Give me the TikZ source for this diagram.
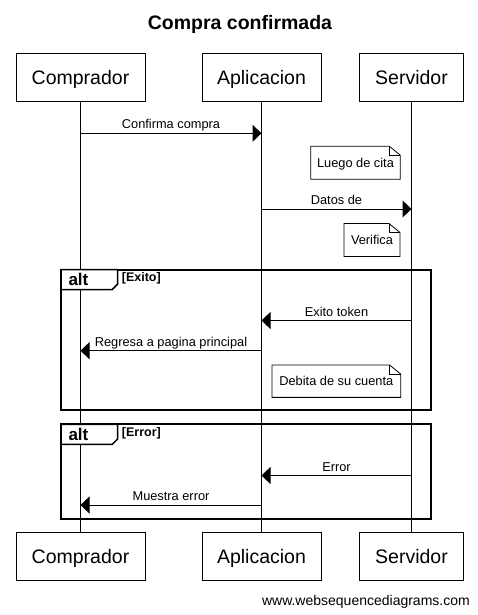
\documentclass[tikz,border=0pt]{standalone}
\usepackage{fontspec}
\setmainfont{Liberation Sans}
\usetikzlibrary{arrows.meta}
\tikzset{
  actorbox/.style={draw, line width=1pt, minimum height=48.5pt, inner sep=0pt,
    text height=14pt, text depth=0pt, font=\fontsize{19.5}{22}\selectfont},
  lifeline/.style={line width=1pt},
  msg/.style={line width=1pt, -{Triangle[length=9pt,width=17pt]}},
  mlabel/.style={anchor=base, inner sep=0pt, font=\fontsize{12.8}{14}\selectfont},
  notebox/.style={fill=white, inner sep=0pt, outer sep=0pt, minimum height=33pt,
    text height=9.3pt, text depth=0pt, font=\fontsize{12.8}{14}\selectfont},
  noteline/.style={line width=0.8pt},
  framebox/.style={draw, line width=2pt, inner sep=0pt, outer sep=0pt},
  tabline/.style={line width=1.5pt, fill=white},
  altlabel/.style={anchor=base west, inner sep=0pt, font=\fontsize{17}{19}\selectfont\bfseries},
  condlabel/.style={anchor=base west, inner sep=0pt, font=\fontsize{12.5}{14}\selectfont\bfseries},
}
\newcommand{\notepath}[1]{%
  \draw[noteline] (#1.south west) -- (#1.north west) -- ([xshift=-11pt]#1.north east)
    -- ([yshift=-9pt]#1.north east) -- (#1.south east) -- cycle;
  \draw[noteline] ([xshift=-11pt]#1.north east) |- ([yshift=-9pt]#1.north east);}
\begin{document}
\begin{tikzpicture}[x=1pt,y=-1pt]
\useasboundingbox[fill=white] (0,0) rectangle (478,615);

% title
\node[anchor=base, inner sep=0pt, font=\fontsize{19.5}{22}\selectfont\bfseries] (title) at (240,30) {Compra confirmada};

% participants
\node[actorbox, minimum width=129pt] (cT) at (80.5,77.5) {Comprador};
\node[actorbox, minimum width=119pt] (aT) at (261.5,77.5) {Aplicacion};
\node[actorbox, minimum width=104pt] (sT) at (411.5,77.5) {Servidor};
\node[actorbox, minimum width=129pt] (cB) at (80.5,556.7) {Comprador};
\node[actorbox, minimum width=119pt] (aB) at (261.5,556.7) {Aplicacion};
\node[actorbox, minimum width=104pt] (sB) at (411.5,556.7) {Servidor};

\draw[lifeline] (cT.south) -- (cB.north);
\draw[lifeline] (aT.south) -- (aB.north);
\draw[lifeline] (sT.south) -- (sB.north);

% message end points
\coordinate (m1a) at (80.5,133.3);  \coordinate (m1b) at (261.5,133.3);
\coordinate (m2a) at (261.5,209);   \coordinate (m2b) at (411.5,209);
\coordinate (m3a) at (411.5,320.5); \coordinate (m3b) at (261.5,320.5);
\coordinate (m4a) at (261.5,350.7); \coordinate (m4b) at (80.5,350.7);
\coordinate (m5a) at (411.5,475.5); \coordinate (m5b) at (261.5,475.5);
\coordinate (m6a) at (261.5,505);   \coordinate (m6b) at (80.5,505);

\draw[msg] (m1a) -- (m1b) node[mlabel, pos=0.5, yshift=4.5pt] {Confirma compra};
\draw[msg] (m2a) -- (m2b) node[mlabel, pos=0.5, yshift=4.5pt] {Datos de};
\draw[msg] (m3a) -- (m3b) node[mlabel, pos=0.5, yshift=4.5pt] {Exito token};
\draw[msg] (m4a) -- (m4b) node[mlabel, pos=0.5, yshift=4.5pt] {Regresa a pagina principal};
\draw[msg] (m5a) -- (m5b) node[mlabel, pos=0.5, yshift=4.5pt] {Error};
\draw[msg] (m6a) -- (m6b) node[mlabel, pos=0.5, yshift=4.5pt] {Muestra error};

% notes
\node[notebox, minimum width=89.6pt] (n1) at (355.5,162.7) {Luego de cita};
\notepath{n1}
\node[notebox, minimum width=56pt] (n2) at (372,240) {Verifica};
\notepath{n2}
\node[notebox, minimum width=128.7pt, minimum height=32.3pt] (n3) at (336.3,381.2) {Debita de su cuenta};
\notepath{n3}

% alt frames
\node[framebox, minimum width=370pt, minimum height=140pt] (f1) at (246,339.5) {};
\filldraw[tabline] (f1.north west) -- ++(56.7,0) -- ++(0,14.5) -- ++(-5.4,5.5) -- ++(-51.3,0) -- cycle;
\node[altlabel] (f1alt) at (68.3,285.3) {alt};
\node[condlabel] (f1cond) at (121.7,281.5) {[Exito]};

\node[framebox, minimum width=370pt, minimum height=94.7pt] (f2) at (246,471.7) {};
\filldraw[tabline] (f2.north west) -- ++(56.7,0) -- ++(0,14.5) -- ++(-5.4,5.5) -- ++(-51.3,0) -- cycle;
\node[altlabel] (f2alt) at (68.3,440.3) {alt};
\node[condlabel] (f2cond) at (121.7,436.5) {[Error]};

% footer
\node[anchor=base east, inner sep=0pt, font=\fontsize{14}{16}\selectfont] (www) at (470,605.7) {www.websequencediagrams.com};
\end{tikzpicture}
\end{document}
